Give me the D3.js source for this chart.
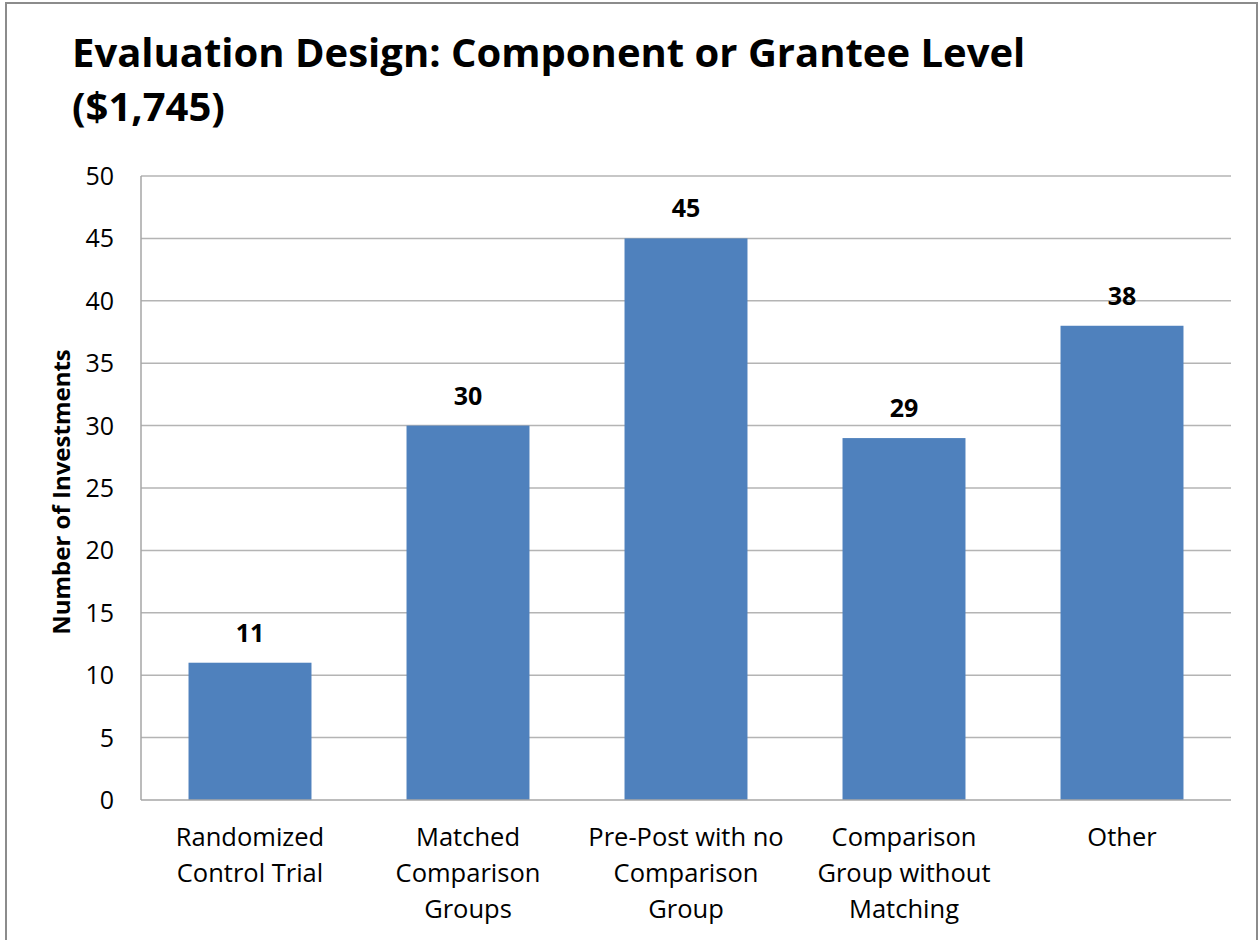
<!DOCTYPE html>
<html>
<head>
<meta charset="utf-8">
<script src="https://cdn.jsdelivr.net/npm/d3@7"></script>
<style>
  body { margin: 0; background: #fff; }
  text { font-family: "Open Sans", "Noto Sans", sans-serif; fill: #000; }
</style>
</head>
<body>
<svg id="chart" width="1260" height="940"></svg>
<script>
// chart data
const categories = [
  ["Randomized", "Control Trial"],
  ["Matched", "Comparison", "Groups"],
  ["Pre-Post with no", "Comparison", "Group"],
  ["Comparison", "Group without", "Matching"],
  ["Other"]
];
const values = [11, 30, 45, 29, 38];
const yTicks = [0, 5, 10, 15, 20, 25, 30, 35, 40, 45, 50];
const titleLines = ["Evaluation Design: Component or Grantee Level", "($1,745)"];
const yTitle = "Number of Investments";

const svg = d3.select("#chart");

// outer frame
svg.append("rect")
  .attr("x", 6).attr("y", 3)
  .attr("width", 1251).attr("height", 945)
  .attr("fill", "none")
  .attr("stroke", "#8c8c8c")
  .attr("stroke-width", 2);

const plot = { left: 141, right: 1231, top: 176, bottom: 800 };

let x = d3.scaleBand()
  .domain(d3.range(values.length))
  .range([plot.left, plot.right])
  .paddingInner(0.436)
  .paddingOuter(0.218);

let y = d3.scaleLinear()
  .domain([0, 50])
  .range([plot.bottom, plot.top]);

// gridlines
svg.append("g").selectAll("line").data(yTicks.filter(d => d > 0)).enter().append("line")
  .attr("x1", plot.left).attr("x2", plot.right)
  .attr("y1", d => y(d)).attr("y2", d => y(d))
  .attr("stroke", "#b4b4b4")
  .attr("stroke-width", 1.5);

// y tick labels
svg.append("g").selectAll("text").data(yTicks).enter().append("text")
  .attr("x", 114)
  .attr("y", d => y(d) + 9)
  .attr("text-anchor", "end")
  .style("font-size", "25px")
  .text(d => d);

// bars
svg.append("g").selectAll("rect").data(values).enter().append("rect")
  .attr("x", (d, i) => x(i))
  .attr("y", d => y(d))
  .attr("width", x.bandwidth())
  .attr("height", d => y(0) - y(d))
  .attr("fill", "#4f81bd");

// value labels
svg.append("g").selectAll("text").data(values).enter().append("text")
  .attr("x", (d, i) => x(i) + x.bandwidth() / 2)
  .attr("y", d => y(d) - 21)
  .attr("text-anchor", "middle")
  .style("font-size", "25px")
  .style("font-weight", "bold")
  .text(d => d);

// axes lines
svg.append("line")
  .attr("x1", plot.left).attr("x2", plot.left)
  .attr("y1", plot.top).attr("y2", plot.bottom)
  .attr("stroke", "#a6a6a6").attr("stroke-width", 1.5);
svg.append("line")
  .attr("x1", plot.left).attr("x2", plot.right)
  .attr("y1", plot.bottom).attr("y2", plot.bottom)
  .attr("stroke", "#a6a6a6").attr("stroke-width", 1.5);

// category labels
let cat = svg.append("g").selectAll("text").data(categories).enter().append("text")
  .attr("x", (d, i) => x(i) + x.bandwidth() / 2)
  .attr("y", 846)
  .attr("text-anchor", "middle")
  .style("font-size", "25.5px");
cat.selectAll("tspan").data(d => d).enter().append("tspan")
  .attr("x", function () { return d3.select(this.parentNode).attr("x"); })
  .attr("dy", (d, i) => i === 0 ? 0 : 36)
  .text(d => d);

// y axis title
svg.append("text")
  .attr("transform", "translate(70,492) rotate(-90)")
  .attr("text-anchor", "middle")
  .style("font-size", "24px")
  .style("font-weight", "bold")
  .text(yTitle);

// chart title
svg.append("g").selectAll("text").data(titleLines).enter().append("text")
  .attr("x", 72)
  .attr("y", (d, i) => 67 + i * 54)
  .style("font-size", "40px")
  .style("font-weight", "bold")
  .text(d => d);
</script>
</body>
</html>
